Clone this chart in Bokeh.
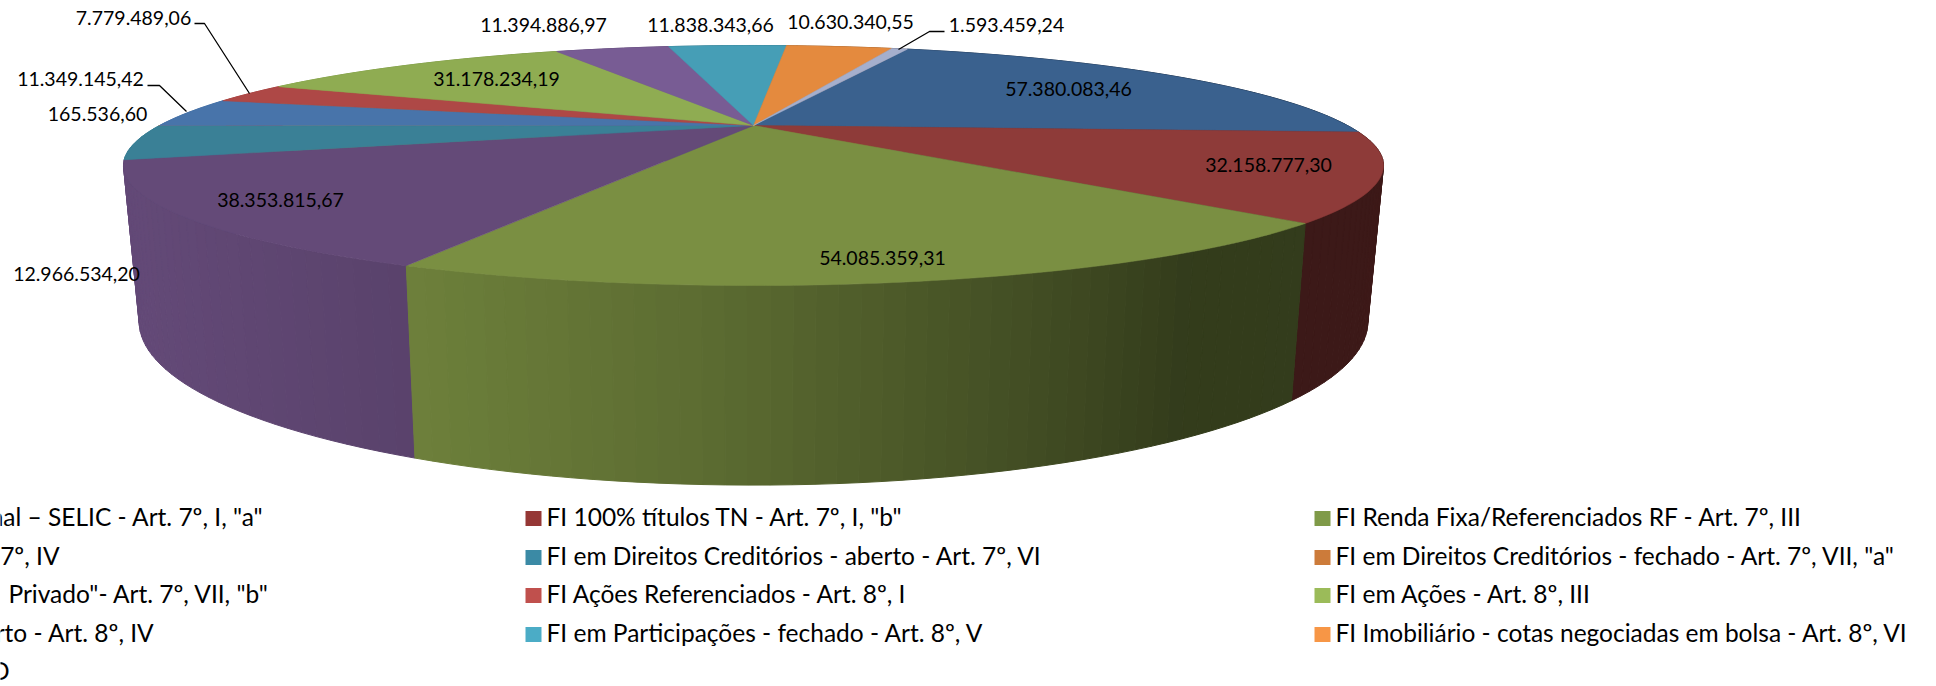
import numpy as np
from bokeh.plotting import figure
from bokeh.models import Range1d
from bokeh.core.properties import value
from bokeh.embed import file_html
from bokeh.resources import INLINE

# ---- data ----
values = [57380083.46, 32158777.30, 54085359.31, 38353815.67, 12966534.20, 165536.60,
          11349145.42, 7779489.06, 31178234.19, 11394886.97, 11838343.66, 10630340.55, 1593459.24]
labels = ["57.380.083,46", "32.158.777,30", "54.085.359,31", "38.353.815,67", "12.966.534,20", "165.536,60",
          "11.349.145,42", "7.779.489,06", "31.178.234,19", "11.394.886,97", "11.838.343,66", "10.630.340,55", "1.593.459,24"]
slice_colors = ["#3a618e", "#8e3b39", "#7a8f42", "#644a78", "#3a8096", "#b66d31",
                "#4874aa", "#ae4846", "#8fac52", "#785c94", "#469eb6", "#e48a3e", "#a5afcd"]
legend_mid = ['FI 100% títulos TN - Art. 7º, I, "b"', "FI em Direitos Creditórios - aberto - Art. 7º, VI",
              "FI Ações Referenciados - Art. 8º, I", "FI em Participações - fechado - Art. 8º, V"]
legend_mid_colors = ["#953735", "#3b8aa5", "#c0504d", "#4bacc6"]
legend_right = ["FI Renda Fixa/Referenciados RF - Art. 7º, III", 'FI em Direitos Creditórios - fechado - Art. 7º, VII, "a"',
                "FI em Ações - Art. 8º, III", "FI Imobiliário - cotas negociadas em bolsa - Art. 8º, VI"]
legend_right_colors = ["#7f9a48", "#cc7b3a", "#9bbb59", "#f79646"]
legend_cut = ['nal – SELIC - Art. 7º, I, "a"', "7º, IV", 'Privado"- Art. 7º, VII, "b"', "rto - Art. 8º, IV", "O"]

# ---- layout ----
label_x = [1068, 1268, 882, 280, 76, 97, 80, 133, 496, 543, 710, 850, 1006]
label_y = [88, 164, 257, 199, 273, 113, 78, 17, 78, 24, 24, 21, 24]
leaders = [([194, 204, 249], [23, 23, 93]), ([147, 159, 186], [85, 85, 111]), ([944, 929, 898], [31, 31, 49])]
cut_end = [263, 59, 269, 154, 9]
row_y = [518, 557, 595, 634, 672]
TEXT_DY = -2.5
FONT = value("Lato")
FS = "19.5px"
FS_LEG = "24.5px"

CX, CY, B, A, K, START = 753.0, 125.0, 594.0, 106.67, 1 / 3, 19.9
DEPTH, RX, RY = 142.0, 0.975, 1.36


def top(t):
    u, v = np.sin(t), -np.cos(t)
    d = 1 - K * v
    return CX + B * u / d, CY + A * v / d


def bottom(t):
    x, y = top(t)
    return CX + (x - CX) * RX, CY + DEPTH + (y - CY) * RY


def shade(x):
    return np.interp(x, [123, 404, 700, 1068, 1190, 1383], [1.0, 0.9, 0.76, 0.52, 0.42, 0.43])


def tint(c, f):
    r, g, b = int(c[1:3], 16), int(c[3:5], 16), int(c[5:7], 16)
    return "#%02x%02x%02x" % (int(r * f), int(g * f), int(b * f))


total = sum(values)
edges = np.radians(START + np.cumsum([0] + values) / total * 360)

p = figure(width=1936, height=686, output_backend="svg", toolbar_location=None,
           x_range=Range1d(0, 1936), y_range=Range1d(686, 0),
           x_axis_location=None, y_axis_location=None, min_border=0, outline_line_color=None)
p.grid.visible = False
p.background_fill_color = "white"

# side wall
strips = []
for i, c in enumerate(slice_colors):
    n = max(2, int(np.degrees(edges[i + 1] - edges[i]) / 1.5) + 1)
    ts = np.linspace(edges[i], edges[i + 1], n + 1)
    for a, b in zip(ts[:-1], ts[1:]):
        x0, y0 = top(a); x1, y1 = top(b)
        x2, y2 = bottom(b); x3, y3 = bottom(a)
        strips.append(((y2 + y3) / 2, [x0, x1, x2, x3], [y0, y1, y2, y3], tint(c, shade((x0 + x1) / 2))))
strips.sort(key=lambda s: s[0])
p.patches([s[1] for s in strips], [s[2] for s in strips], fill_color=[s[3] for s in strips],
          line_color=[s[3] for s in strips], line_width=1)

# top face
xs, ys = [], []
for i in range(len(values)):
    ts = np.linspace(edges[i], edges[i + 1], max(3, int(np.degrees(edges[i + 1] - edges[i])) + 2))
    x, y = top(ts)
    xs.append([CX] + list(x))
    ys.append([CY] + list(y))
widths = [0.5 if v / total > 0.005 else 0 for v in values]
p.patches(xs, ys, fill_color=slice_colors, line_color=slice_colors, line_width=widths)

# leaders and data labels
p.multi_line([l[0] for l in leaders], [l[1] for l in leaders], line_color="black", line_width=1.3)
p.text(label_x, label_y, text=labels, text_align="center", text_baseline="middle",
       text_font=FONT, text_font_size=FS, text_color="black")

# legend
for col_x, names, cols in ((525, legend_mid, legend_mid_colors), (1314, legend_right, legend_right_colors)):
    ry = row_y[:4]
    p.rect([col_x + 8] * 4, ry, width=16, height=15, fill_color=cols, line_color=None)
    p.text([col_x + 21] * 4, [r + TEXT_DY for r in ry], text=names, text_align="left", text_baseline="middle",
           text_font=FONT, text_font_size=FS_LEG, text_color="black")
p.text(cut_end, [r + TEXT_DY for r in row_y], text=legend_cut, text_align="right", text_baseline="middle",
       text_font=FONT, text_font_size=FS_LEG, text_color="black")

open("out.html", "w").write(file_html(p, INLINE))
